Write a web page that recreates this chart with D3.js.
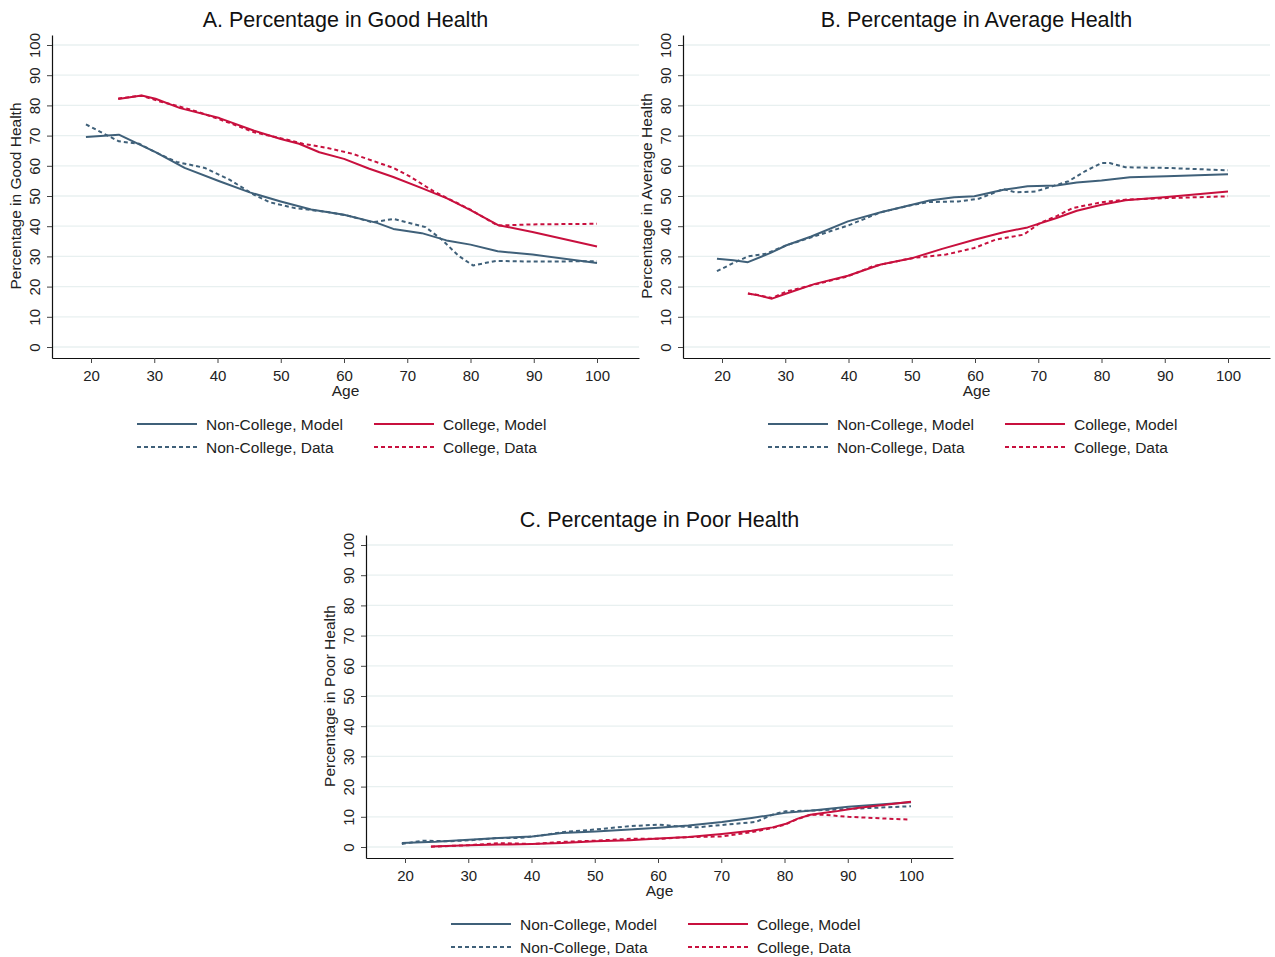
<!DOCTYPE html>
<html>
<head>
<meta charset="utf-8">
<script src="https://cdn.jsdelivr.net/npm/d3@7"></script>
<style>
  html, body { margin: 0; padding: 0; background: #fff; }
  svg { display: block; font-family: "Liberation Sans", Arial, sans-serif; }
</style>
</head>
<body>
<svg id="chart" width="1275" height="957"></svg>
<script>
// Tick values shared by all panels
const ageTicks = [20, 30, 40, 50, 60, 70, 80, 90, 100];
const pctTicks = [0, 10, 20, 30, 40, 50, 60, 70, 80, 90, 100];

// Panel text
const panelTitles = ["A. Percentage in Good Health", "B. Percentage in Average Health", "C. Percentage in Poor Health"];
const yTitles = ["Percentage in Good Health", "Percentage in Average Health", "Percentage in Poor Health"];
const legendLabels = ["Non-College, Model", "Non-College, Data", "College, Model", "College, Data"];

// Good health: [age, percent]
const goodNCModel = [[19.2,69.5],[24.4,70.3],[30.2,64.5],[34.8,59.3],[40.3,54.9],[45.1,51.2],[50,48.2],[54.8,45.5],[60,43.8],[65.2,41.1],[67.8,39.1],[72.3,37.7],[76.2,35.3],[80,33.9],[84.3,31.7],[89.8,30.6],[100,27.8]];
const goodNCData = [[19.2,73.7],[24.4,68.1],[27.6,67.3],[30.2,64.5],[33.5,61.3],[38,59.3],[41.9,55.4],[45.8,50.4],[48.3,47.9],[52.2,46.0],[57.4,44.7],[60.6,43.5],[64.5,41.3],[67.8,42.4],[72.9,39.7],[75.5,35.5],[78.1,30.2],[80.4,27.0],[84,28.5],[89.8,28.3],[100,28.4]];
const goodCModel = [[24.3,82.1],[28,83.3],[30.2,82.2],[34.1,79.1],[40.3,75.8],[45.8,71.6],[50,68.9],[52.9,67.3],[56.1,64.5],[60,62.3],[63.9,59.1],[67.8,56.3],[72.3,52.6],[76.2,49.3],[80,45.3],[84.3,40.4],[89.8,38.1],[100,33.3]];
const goodCData = [[24.3,82.3],[26.3,82.8],[28,83.2],[30.9,81.3],[33.5,79.9],[36.7,78.0],[41.9,74.2],[45.8,71.1],[50.9,68.7],[53.5,67.3],[57.4,65.9],[61.3,64.0],[67.8,59.3],[70.4,56.5],[74.2,51.5],[76.8,48.8],[80,45.5],[84.3,40.2],[89.8,40.6],[100,40.8]];

// Average health: [age, percent]
const avgNCModel = [[19.2,29.2],[21.8,28.7],[24.1,28.1],[27.6,31.1],[30.2,33.7],[34.1,36.6],[39.9,41.6],[45.1,44.6],[50.2,47.2],[52.8,48.5],[56.7,49.6],[59.9,49.9],[64.5,52.1],[68.3,53.2],[72.9,53.5],[76.1,54.5],[80,55.1],[84.5,56.2],[90.3,56.5],[100,57.2]];
const avgNCData = [[19.2,25.1],[21.8,27.8],[24.1,30.0],[27,30.9],[30.2,33.7],[34.1,36.3],[39.9,40.2],[45.1,44.6],[50.2,47.1],[52.8,48.0],[57.4,48.2],[60.6,49.1],[64.5,52.3],[66.4,51.2],[69.6,51.5],[72.2,53.2],[74.8,54.9],[77.4,58.2],[80,60.9],[81.3,60.9],[83.8,59.5],[90.3,59.3],[100,58.5]];
const avgCModel = [[24.1,17.7],[25.7,17.1],[27.9,16.0],[30.2,17.7],[34.7,20.9],[39.9,23.6],[45.1,27.3],[50.2,29.5],[54.8,32.5],[59.9,35.5],[64.5,38.0],[68.3,39.6],[72.9,42.7],[76.1,45.1],[80,47.1],[83.8,48.6],[90.3,49.7],[100,51.5]];
const avgCData = [[24.1,17.7],[25.7,17.2],[27.9,16.2],[30.2,18.4],[34.1,20.4],[39.9,23.4],[43.8,26.7],[50.2,29.5],[55.4,30.6],[59.9,32.8],[63.2,35.5],[67.7,37.2],[70.3,41.1],[72.9,43.3],[75.4,46.0],[80,47.9],[83.8,48.8],[90.3,49.3],[100,49.9]];

// Poor health: [age, percent]
const poorNCModel = [[19.5,1.3],[24.8,1.7],[30.1,2.4],[34.8,3.0],[40.1,3.5],[44.8,4.6],[50.1,5.1],[55.5,5.8],[60.1,6.4],[64.8,7.1],[70.1,8.3],[74.8,9.6],[80.1,11.3],[84.8,12.2],[90.1,13.3],[100,14.8]];
const poorNCData = [[19.5,1.0],[22.8,2.1],[26.8,1.9],[30.1,2.2],[34.8,3.0],[38.1,3.0],[41.5,3.8],[44.8,4.9],[50.1,5.8],[55.5,6.9],[60.1,7.4],[62.8,6.9],[66.1,6.5],[70.1,7.3],[75.5,8.3],[78.1,10.7],[80.1,11.8],[84.8,12.1],[90.1,12.6],[100,13.5]];
const poorCModel = [[24.1,0.2],[30.1,0.6],[34.8,0.8],[40.1,1.0],[44.8,1.3],[50.1,1.9],[55.5,2.2],[60.1,2.8],[64.8,3.3],[70.1,4.3],[74.8,5.4],[78.1,6.5],[80.1,7.6],[82.1,9.4],[84.1,10.7],[88.1,11.8],[91.5,12.9],[100,15.0]];
const poorCData = [[24.1,0.1],[30.1,0.6],[34.8,1.3],[40.1,1.0],[44.8,1.7],[50.1,2.1],[55.5,2.7],[60.1,2.7],[64.8,3.3],[70.1,3.5],[74.8,4.9],[78.1,6.3],[80.1,7.4],[82.1,9.3],[84.1,10.7],[86.1,10.7],[90.1,10.0],[94.1,9.6],[99.5,9.1]];

const nonCollegeColor = "#3f6079";
const collegeColor = "#c8103e";
const gridColor = "#e8f0f0";

// Series styling, in legend order
const seriesStyles = [
  { color: nonCollegeColor, dash: null },
  { color: nonCollegeColor, dash: "4,3" },
  { color: collegeColor, dash: null },
  { color: collegeColor, dash: "4,3" }
];

const panelData = [
  [goodNCModel, goodNCData, goodCModel, goodCData],
  [avgNCModel, avgNCData, avgCModel, avgCData],
  [poorNCModel, poorNCData, poorCModel, poorCData]
];
const panelOffsets = [[0, 0], [631, 0], [314, 500]];

const svg = d3.select("#chart");

function drawPanel(i) {
  const [ox, oy] = panelOffsets[i];
  const g = svg.append("g").attr("transform", `translate(${ox},${oy})`);

  // plot frame: axis lines run from left..right and top..bottom
  const left = 52, right = 639, top = 35, bottom = 358;
  // reference ticks: age 20 at 91, age 100 at 597; pct 0 at 347, pct 100 at 45
  const xRef = d3.scaleLinear().domain([20, 100]).range([91, 597]);
  const yRef = d3.scaleLinear().domain([0, 100]).range([347, 45]);
  const x = d3.scaleLinear().domain([xRef.invert(left), xRef.invert(right)]).range([left, right]);
  const y = d3.scaleLinear().domain([yRef.invert(bottom), yRef.invert(top)]).range([bottom, top]);

  // gridlines
  g.append("g").selectAll("line").data(pctTicks).join("line")
    .attr("x1", left).attr("x2", right)
    .attr("y1", d => y(d)).attr("y2", d => y(d))
    .attr("stroke", gridColor).attr("stroke-width", 1.3);

  // y axis
  const yAxis = g.append("g").attr("transform", `translate(${left},0)`)
    .call(d3.axisLeft(y).tickValues(pctTicks).tickSize(5).tickSizeOuter(0));
  yAxis.select(".domain").attr("stroke", "#111").attr("stroke-width", 1.2);
  yAxis.selectAll(".tick line").attr("stroke", "#444");
  yAxis.selectAll(".tick text")
    .attr("x", null).attr("dy", null)
    .attr("transform", "translate(-12,0) rotate(-90)")
    .attr("text-anchor", "middle")
    .attr("font-size", 15).attr("fill", "#222")
    .attr("font-family", "Liberation Sans, Arial, sans-serif");

  // x axis
  const xAxis = g.append("g").attr("transform", `translate(0,${bottom})`)
    .call(d3.axisBottom(x).tickValues(ageTicks).tickSize(5).tickSizeOuter(0));
  xAxis.select(".domain").attr("stroke", "#111").attr("stroke-width", 1.2);
  xAxis.selectAll(".tick line").attr("stroke", "#444");
  xAxis.selectAll(".tick text")
    .attr("y", 12)
    .attr("font-size", 15).attr("fill", "#222")
    .attr("font-family", "Liberation Sans, Arial, sans-serif");

  // axis titles
  g.append("text")
    .attr("x", (left + right) / 2).attr("y", 396)
    .attr("text-anchor", "middle").attr("font-size", 15.5).attr("fill", "#222")
    .text("Age");
  g.append("text")
    .attr("transform", `translate(21,${(y(0) + y(100)) / 2}) rotate(-90)`)
    .attr("text-anchor", "middle").attr("font-size", 15.5).attr("fill", "#222")
    .text(yTitles[i]);

  // panel title
  g.append("text")
    .attr("x", (left + right) / 2).attr("y", 27)
    .attr("text-anchor", "middle").attr("font-size", 21.5).attr("fill", "#111")
    .text(panelTitles[i]);

  // series lines
  const line = d3.line().x(d => x(d[0])).y(d => y(d[1]));
  panelData[i].forEach((series, k) => {
    const s = seriesStyles[k];
    g.append("path")
      .datum(series)
      .attr("d", line)
      .attr("fill", "none")
      .attr("stroke", s.color)
      .attr("stroke-width", 2)
      .attr("stroke-linejoin", "round")
      .attr("stroke-dasharray", s.dash);
  });

  // legend: two columns, two rows
  const legendCols = [137, 374];
  const legendRows = [424, 447];
  const order = [[0, 0], [0, 1], [1, 0], [1, 1]];
  order.forEach(([c, r], k) => {
    const s = seriesStyles[k];
    const lx = legendCols[c], ly = legendRows[r];
    g.append("line")
      .attr("x1", lx).attr("x2", lx + 60)
      .attr("y1", ly).attr("y2", ly)
      .attr("stroke", s.color).attr("stroke-width", 2)
      .attr("stroke-dasharray", s.dash);
    g.append("text")
      .attr("x", lx + 69).attr("y", ly + 5.5)
      .attr("font-size", 15.5).attr("fill", "#222")
      .text(legendLabels[k]);
  });
}

[0, 1, 2].forEach(drawPanel);
</script>
</body>
</html>
